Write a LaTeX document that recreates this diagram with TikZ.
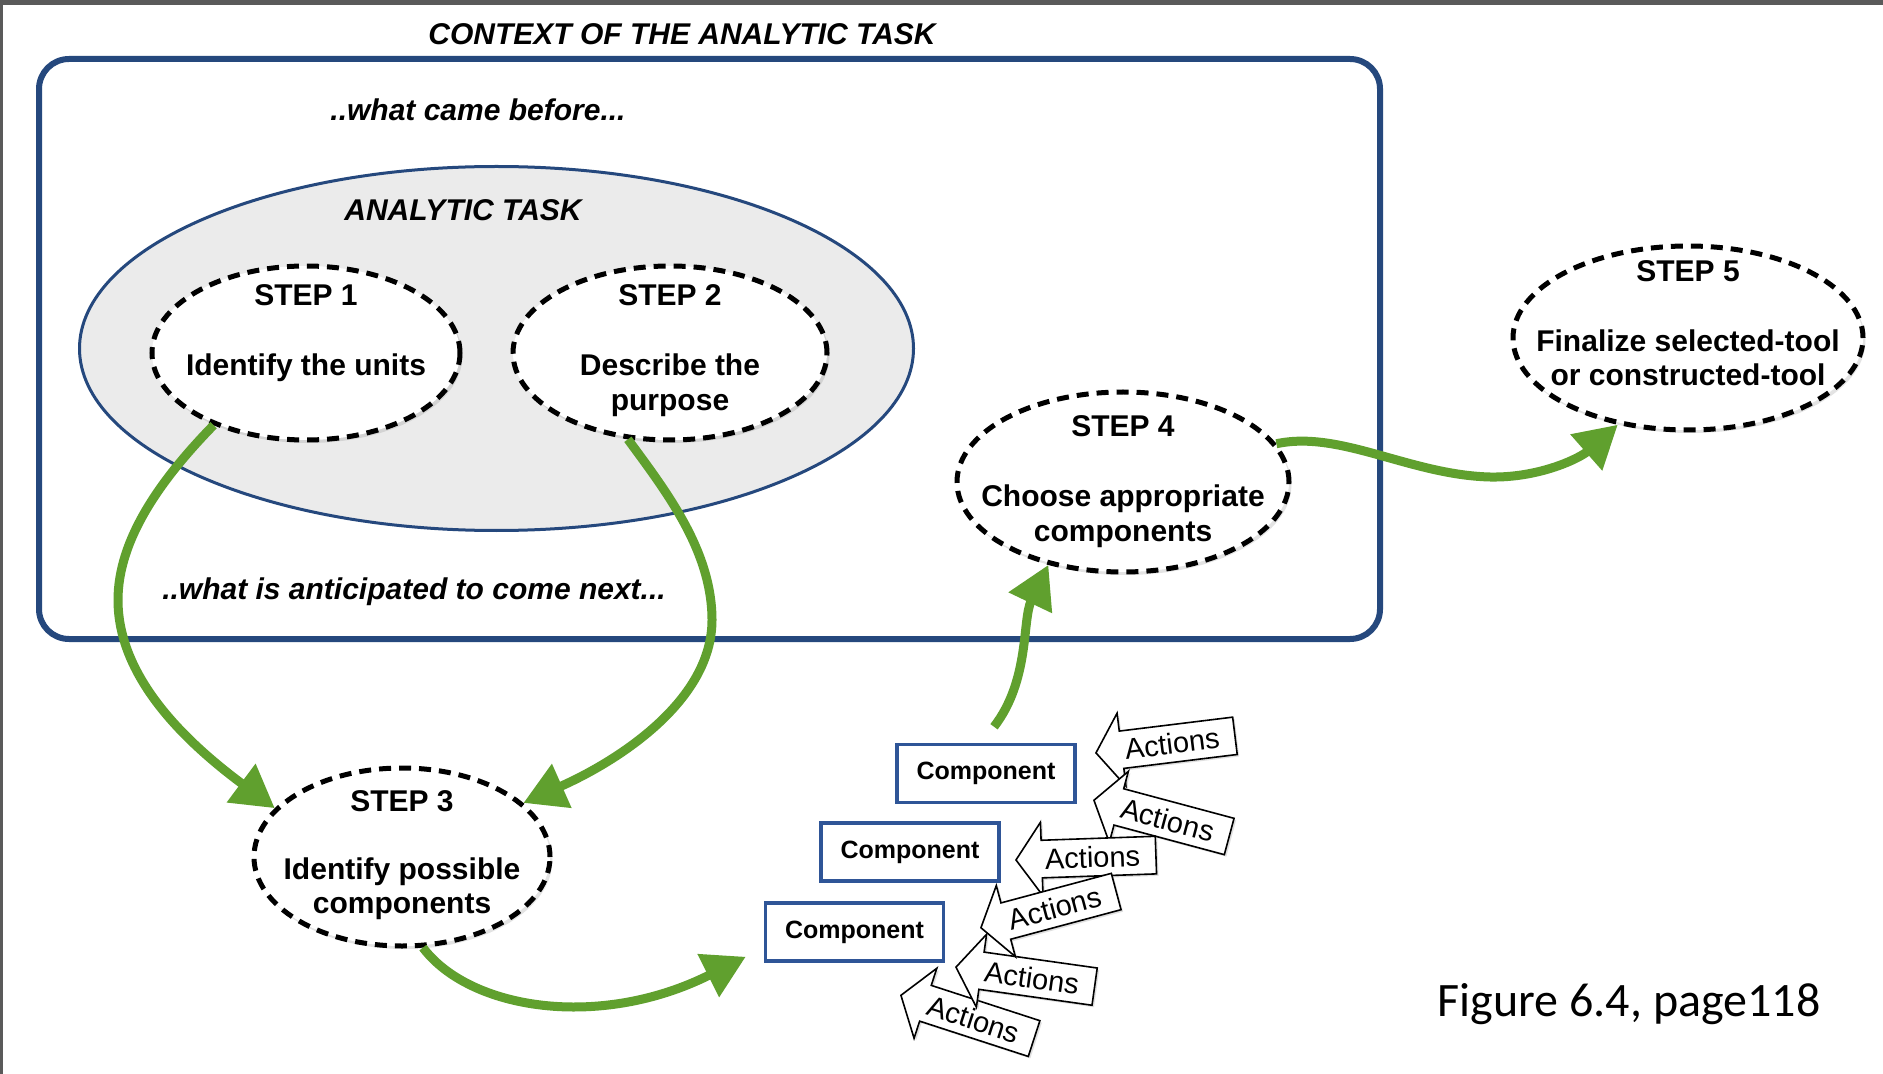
\documentclass[tikz,border=0pt]{standalone}
\usepackage{fontspec}
\setmainfont{Liberation Sans}
\newfontfamily\calfont{Carlito}
\usetikzlibrary{shapes.geometric,shapes.arrows,arrows.meta,shadows}
\definecolor{frameblue}{RGB}{37,72,125}
\definecolor{boxblue}{RGB}{47,85,151}
\definecolor{arrgreen}{RGB}{96,160,46}
\definecolor{taskgray}{RGB}{235,235,235}
\definecolor{edgegray}{RGB}{90,90,90}
\tikzset{
  stepell/.style={ellipse, draw=black, line width=2.5pt, dash pattern=on 6pt off 4pt,
    fill=white, inner sep=0pt,
    drop shadow={shadow xshift=1.2pt, shadow yshift=-1.5pt, opacity=0.22}},
  lbl/.style={font=\fontsize{15}{18}\selectfont\bfseries, anchor=base, inner sep=0pt},
  ital/.style={font=\fontsize{15}{18}\selectfont\bfseries\itshape, anchor=base, inner sep=0pt},
  compbox/.style={rectangle, draw=boxblue, line width=1.75pt, fill=white,
    minimum width=89pt, minimum height=29pt, inner sep=0pt,
    font=\fontsize{12.5}{15}\selectfont\bfseries},
  actarrow/.style={single arrow, draw=black, line width=0.8pt, fill=white,
    shape border rotate=180, single arrow head extend=9pt, single arrow tip angle=110,
    minimum height=70pt, inner xsep=2pt, inner ysep=3.75pt, text height=10.5pt, text depth=0pt,
    font=\fontsize{14.5}{17}\selectfont, anchor=tip,
    drop shadow={shadow xshift=1pt, shadow yshift=-1pt, opacity=0.25}},
  flow/.style={draw=arrgreen, line width=4.5pt, -{Triangle[length=21pt,width=23pt]}},
}
\begin{document}
\begin{tikzpicture}[x=0.5pt,y=-0.5pt]
\useasboundingbox (0,0) rectangle (1883,1074);
\fill[white] (0,0) rectangle (1883,1074);
% frame edges of the screenshot
\fill[edgegray] (0,0) rectangle (1883,5);
\fill[edgegray] (0,0) rectangle (3,1074);

% context box
\node[draw=frameblue, line width=3pt, rounded corners=15pt, minimum width=670.5pt,
  minimum height=290pt, inner sep=0pt] (ctx) at (709.5,349) {};
\node[ital] (ctxtitle) at (682,45) {CONTEXT OF THE ANALYTIC TASK};
\node[ital] (before) at (478,121) {..what came before...};
\node[ital] (next) at (414,599) {..what is anticipated to come next...};

% analytic task ellipse
\node[ellipse, draw=frameblue, line width=1.5pt, fill=taskgray, minimum width=417pt,
  minimum height=182pt, inner sep=0pt] (task) at (496.5,348.5) {};
\node[ital] (tasktitle) at (463,221) {ANALYTIC TASK};

% steps
\node[stepell, minimum width=154pt, minimum height=87pt] (s1) at (306,353) {};
\node[stepell, minimum width=157pt, minimum height=87pt] (s2) at (670,353) {};
\node[stepell, minimum width=148pt, minimum height=89pt] (s3) at (402,857) {};
\node[stepell, minimum width=166pt, minimum height=90pt] (s4) at (1123,482) {};
\node[stepell, minimum width=175pt, minimum height=92pt] (s5) at (1688,338) {};

\node[lbl] (s1t) at (306,306) {STEP 1};
\node[lbl] (s1a) at (306,376) {Identify the units};
\node[lbl] (s2t) at (670,306) {STEP 2};
\node[lbl] (s2a) at (670,376) {Describe the};
\node[lbl] (s2b) at (670,411) {purpose};
\node[lbl] (s3t) at (402,811) {STEP 3};
\node[lbl] (s3a) at (402,879) {Identify possible};
\node[lbl] (s3b) at (402,913) {components};
\node[lbl] (s4t) at (1123,437) {STEP 4};
\node[lbl] (s4a) at (1123,507) {Choose appropriate};
\node[lbl] (s4b) at (1123,541) {components};
\node[lbl] (s5t) at (1688,282) {STEP 5};
\node[lbl] (s5a) at (1688,352) {Finalize selected-tool};
\node[lbl] (s5b) at (1688,386) {or constructed-tool};

% components
\node[compbox] (c1) at (986,773.5) {Component};
\node[compbox] (c2) at (910,852) {Component};
\node[compbox] (c3) at (854.5,932) {Component};

% actions
\node[actarrow, rotate=7] (a1) at (1095,753) {Actions};
\node[actarrow, rotate=-15] (a2) at (1093,800) {Actions};
\node[actarrow, rotate=2] (a3) at (1015,860) {Actions};
\node[actarrow, rotate=-18] (a6) at (900,995) {Actions};
\node[actarrow, rotate=-8] (a5) at (955,967) {Actions};
\node[actarrow, rotate=15] (a4) at (980,928) {Actions};

% green flow arrows
\draw[flow] (s1.218) .. controls (160,480) and (118,540) .. (118,600)
  .. controls (118,680) and (190,745) .. (s3.159);
\draw[flow] (s2.244) .. controls (665,490) and (712,550) .. (712,620)
  .. controls (712,700) and (620,760) .. (s3.24);
\draw[flow] (s3.283) .. controls (470,1010) and (600,1030) .. ([shift={(-9pt,3pt)}]c3.south west);
\draw[flow] ([shift={(4pt,8pt)}]c1.north) .. controls (1030,680) and (1022,620) .. (s4.228);
\draw[flow] (s4.14) .. controls (1340,430) and (1410,475) .. (1490,477)
  .. controls (1540,478) and (1580,458) .. (s5.231);

% caption
\node[font=\calfont\fontsize{24}{28}\selectfont, anchor=base, inner sep=0pt] (cap) at (1629,1016) {Figure 6.4, page118};
\end{tikzpicture}
\end{document}
